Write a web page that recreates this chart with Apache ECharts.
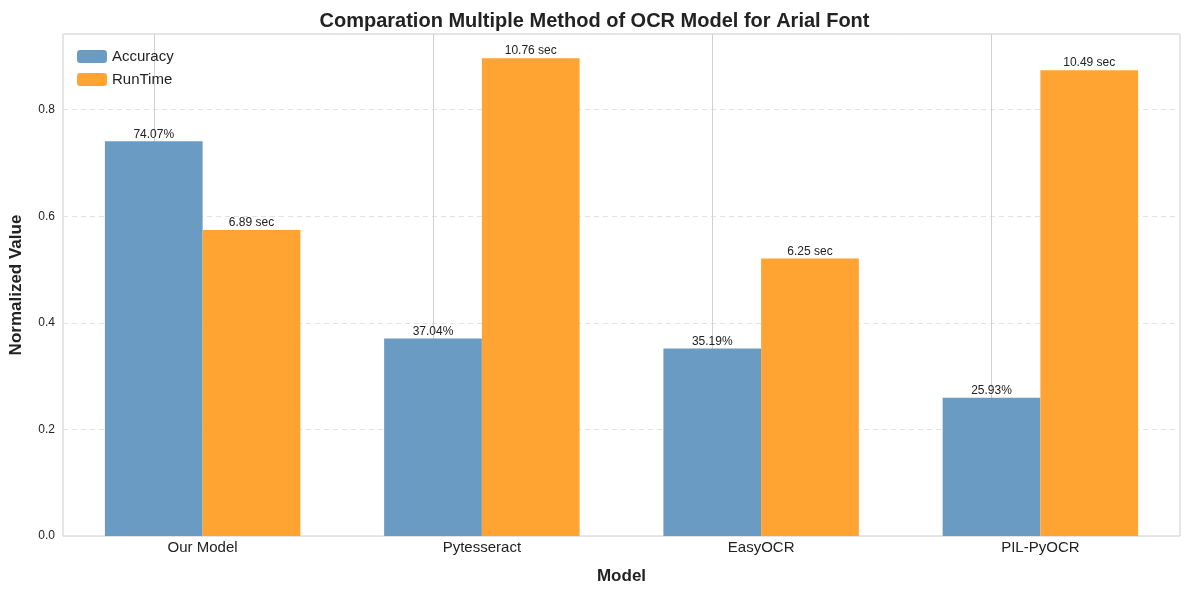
<!DOCTYPE html>
<html>
<head>
<meta charset="UTF-8">
<script src="https://cdn.jsdelivr.net/npm/echarts@6/dist/echarts.min.js"></script>
<style>body{margin:0}#c{width:1189px;height:590px}</style>
</head>
<body>
<div id="c"></div>
<script>
var models = ['Our Model', 'Pytesseract', 'EasyOCR', 'PIL-PyOCR'];
var accuracyPct = [74.07, 37.04, 35.19, 25.93];
var runtimeSec = [6.89, 10.76, 6.25, 10.49];
var runtimeScale = 12; // runtime normalized against 12 sec

var chart = echarts.init(document.getElementById('c'));
var font = 'Arial, "Liberation Sans", sans-serif';

chart.setOption({
  textStyle: { fontFamily: font },
  title: {
    text: 'Comparation Multiple Method of OCR Model for Arial Font',
    left: 'center', top: 6,
    textStyle: { fontSize: 20, fontWeight: 'bold', color: '#222', fontFamily: font }
  },
  legend: {
    left: 72, top: 44, orient: 'vertical', itemGap: 8,
    itemWidth: 30, itemHeight: 13,
    textStyle: { fontSize: 15, color: '#222' }
  },
  grid: {
    left: 59, right: 9, top: 34, bottom: 53,
    show: true, borderColor: '#ccc', borderWidth: 1
  },
  xAxis: {
    type: 'category', data: models,
    name: 'Model', nameLocation: 'middle', nameGap: 32,
    nameTextStyle: { fontSize: 17, fontWeight: 'bold', color: '#222' },
    axisLine: { show: false }, axisTick: { show: false },
    splitLine: { show: false },
    axisLabel: { fontSize: 15, color: '#222', margin: 4 }
  },
  yAxis: {
    type: 'value', min: 0, max: 0.942, interval: 0.2,
    name: 'Normalized Value', nameLocation: 'middle', nameGap: 38,
    nameTextStyle: { fontSize: 17, fontWeight: 'bold', color: '#222' },
    axisLabel: { fontSize: 12, color: '#222', showMaxLabel: false,
      formatter: function (v) { return v.toFixed(1); } },
    splitLine: { lineStyle: { type: [5, 4], color: '#e2e2e2' } }
  },
  series: [
    {
      name: 'Accuracy', type: 'bar', barWidth: '35%', barGap: '0%',
      data: accuracyPct.map(function (v) { return v / 100; }),
      itemStyle: { color: '#6a9bc3' },
      label: { show: true, position: 'top', distance: 1, fontSize: 12, color: '#222',
        formatter: function (p) { return accuracyPct[p.dataIndex].toFixed(2) + '%'; } },
      markLine: {
        silent: true, symbol: 'none', label: { show: false },
        lineStyle: { color: '#d0d0d0', type: 'solid', width: 1 },
        data: models.map(function (m) { return { xAxis: m }; }),
        z: 0
      },
      z: 3
    },
    {
      name: 'RunTime', type: 'bar', barWidth: '35%',
      data: runtimeSec.map(function (v) { return v / runtimeScale; }),
      itemStyle: { color: '#ffa333' },
      label: { show: true, position: 'top', distance: 1, fontSize: 12, color: '#222',
        formatter: function (p) { return runtimeSec[p.dataIndex].toFixed(2) + ' sec'; } },
      z: 3
    }
  ]
});
</script>
</body>
</html>
